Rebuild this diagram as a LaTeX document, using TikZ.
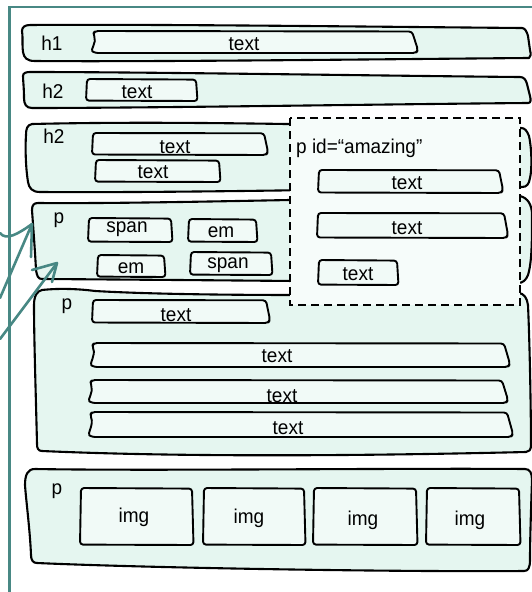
\documentclass[tikz,border=0pt]{standalone}
\usepackage{fontspec}
\setmainfont{Liberation Sans}[FakeStretch=0.95]
\definecolor{tealline}{RGB}{72,136,132}
\definecolor{outerfill}{RGB}{229,246,240}
\definecolor{innerfill}{RGB}{241,250,247}
\definecolor{dashfill}{RGB}{246,252,250}
\tikzset{
  frameline/.style={draw=tealline, line width=2.6pt},
  outerbox/.style={draw=black, fill=outerfill, line width=2.1pt, line join=round},
  innerbox/.style={draw=black, fill=innerfill, line width=1.9pt, rounded corners=3pt, line join=round},
  dashbox/.style={draw=black, fill=dashfill, line width=2.6pt, dash pattern=on 8pt off 5pt},
  lbl/.style={inner sep=0pt, anchor=base, font=\fontsize{20}{23}\selectfont},
  arrowline/.style={draw=tealline, line width=2.6pt, line cap=round, line join=round},
}
\newcommand\wfbox[4]{\filldraw[innerbox] (#1+1,#2) -- (#3-1,#2+0.6) -- (#3+0.5,#4) -- (#1,#4-0.4) -- cycle;}
\newcommand\wfboxs[4]{\filldraw[innerbox] (#1+2,#2) -- (#3-6,#2+0.5) -- (#3,#4-3) -- (#3-2,#4) -- (#1+2,#4) .. controls (#1-3,#4-3) and (#1+4,{(#2+#4)/2}) .. (#1,#2+3) -- cycle;}
\newcommand\wfboxr[4]{\filldraw[innerbox] (#1+1,#2) -- (#3-4,#2+0.3) -- (#3,#4-3) -- (#3-2,#4) -- (#1,#4-0.5) -- cycle;}
\begin{document}
\begin{tikzpicture}[x=1pt,y=-1pt]
\useasboundingbox (0,0) rectangle (532,592);
% outer frame
\draw[frameline] (9.3,592) -- (9.3,7) -- (532,7);
% h1
\filldraw[outerbox] (30,25) .. controls (150,24) and (400,27) .. (522,28)
  .. controls (525,28) and (527,32) .. (528,36) -- (530,50)
  .. controls (531,54) and (531,57) .. (529,58)
  .. controls (400,59) and (150,62) .. (35,61)
  .. controls (27,61) and (24,58) .. (23,52)
  .. controls (22,44) and (23,36) .. (22,31)
  .. controls (22,27) and (25,25) .. cycle;
% h2 (a)
\filldraw[outerbox] (30,72) .. controls (150,72) and (400,76) .. (520,77)
  .. controls (524,77) and (526,80) .. (527,84) -- (530,96)
  .. controls (531,100) and (531,103) .. (528,103)
  .. controls (400,104) and (150,108) .. (32,108)
  .. controls (26,108) and (24,104) .. (24,98)
  .. controls (24,88) and (23,80) .. (23,76)
  .. controls (23,73) and (26,72) .. cycle;
% h2 (b)
\filldraw[outerbox] (32,124) .. controls (200,120) and (400,127) .. (521,128)
  .. controls (525,128) and (527,131) .. (529,136)
  .. controls (532,150) and (532,170) .. (530,178)
  .. controls (529,184) and (527,187) .. (522,187)
  .. controls (400,188) and (200,193) .. (40,192)
  .. controls (32,192) and (29,188) .. (28,182)
  .. controls (26,170) and (25,150) .. (26,135)
  .. controls (26,129) and (27,125) .. cycle;
% p (1)
\filldraw[outerbox] (38,203) .. controls (150,204) and (350,198) .. (520,196)
  .. controls (528,198) and (532,205) .. (532,215)
  .. controls (532,240) and (532,262) .. (528,275)
  .. controls (526,280) and (523,283) .. (518,283)
  .. controls (400,282) and (200,280) .. (42,279)
  .. controls (38,279) and (37,276) .. (36,270)
  .. controls (35,250) and (33,225) .. (32,210)
  .. controls (32,205) and (34,203) .. cycle;
% p (2)
\filldraw[outerbox] (42,290) .. controls (60,288) and (80,289) .. (95,291)
  .. controls (200,297) and (400,295) .. (518,293)
  .. controls (524,293) and (527,298) .. (528,305)
  .. controls (530,350) and (531,420) .. (531,445)
  .. controls (531,450) and (529,452) .. (526,452)
  .. controls (400,455) and (200,458) .. (42,451)
  .. controls (38,451) and (37,448) .. (37,444)
  .. controls (36,400) and (34,340) .. (34,305)
  .. controls (34,296) and (37,291) .. cycle;
% p (3)
\filldraw[outerbox] (35,469) .. controls (150,471) and (400,468) .. (525,469)
  .. controls (530,469) and (532,473) .. (532,480)
  .. controls (531,510) and (530,540) .. (530,560)
  .. controls (530,568) and (528,571) .. (524,571)
  .. controls (400,572) and (150,568) .. (37,563)
  .. controls (33,563) and (31,560) .. (31,555)
  .. controls (30,530) and (26,500) .. (25,485)
  .. controls (25,474) and (28,469) .. cycle;
% inner boxes
\wfboxs{93}{31}{418}{53}
\wfbox{86}{79}{197}{101}
\wfboxr{92}{133}{268}{155}
\wfbox{95}{160}{220}{182}
\wfbox{88}{218}{172}{242}
\wfbox{188}{219}{257}{242}
\wfbox{97}{255}{165}{277}
\wfbox{190}{252}{272}{275}
\wfboxr{92}{300}{270}{323}
\wfboxs{92}{343}{510}{367}
\wfboxs{90}{380}{508}{403}
\wfboxs{90}{412}{513}{437}
\wfbox{80}{488}{193}{545}
\wfbox{203}{488}{305}{545}
\wfbox{313}{488}{417}{545}
\wfbox{426}{488}{520}{545}
% dashed container
\filldraw[dashbox] (290,118) rectangle (520,305);
\wfboxr{318}{170}{503}{193}
\wfboxr{317}{213}{508}{238}
\wfbox{318}{260}{398}{285}
% labels
\node[lbl] (lh1) at (52,50) {h1};
\node[lbl] (th1) at (244,50) {text};
\node[lbl] (lh2a) at (53,98) {h2};
\node[lbl] (th2a) at (137,98) {text};
\node[lbl] (lh2b) at (54,143) {h2};
\node[lbl] (th2b1) at (175,153) {text};
\node[lbl] (th2b2) at (153,178) {text};
\node[lbl,anchor=base west] (lamz) at (296,153) {p id=“amazing”};
\node[lbl] (tamz1) at (407,189) {text};
\node[lbl] (tamz2) at (407,234) {text};
\node[lbl] (tamz3) at (358,280) {text};
\node[lbl] (lp1) at (59,223) {p};
\node[lbl] (sp1) at (127,232) {span};
\node[lbl] (em1) at (221,237) {em};
\node[lbl] (em2) at (131,273) {em};
\node[lbl] (sp2) at (228,268) {span};
\node[lbl] (lp2) at (67,309) {p};
\node[lbl] (tp21) at (176,321) {text};
\node[lbl] (tp22) at (277,362) {text};
\node[lbl] (tp23) at (282,402) {text};
\node[lbl] (tp24) at (288,434) {text};
\node[lbl] (lp3) at (57,494) {p};
\node[lbl] (img1) at (134,522) {img};
\node[lbl] (img2) at (249,523) {img};
\node[lbl] (img3) at (363,525) {img};
\node[lbl] (img4) at (470,525) {img};
% arrows
\coordinate (a1s) at (0,298);
\coordinate (a1t) at (32,224);
\coordinate (a1b) at (31,257);
\coordinate (a1c) at (0,233);
\draw[arrowline] (a1s) -- (a1t) -- (a1b);
\draw[arrowline] (a1t) .. controls (18,234) and (6,241) .. (a1c);
\coordinate (a2s) at (0,339);
\coordinate (a2t) at (57,263);
\coordinate (a2l) at (32,270);
\coordinate (a2b) at (52,282);
\draw[arrowline] (a2s) -- (a2t);
\draw[arrowline] (a2l) -- (a2t) -- (a2b);
\end{tikzpicture}
\end{document}
